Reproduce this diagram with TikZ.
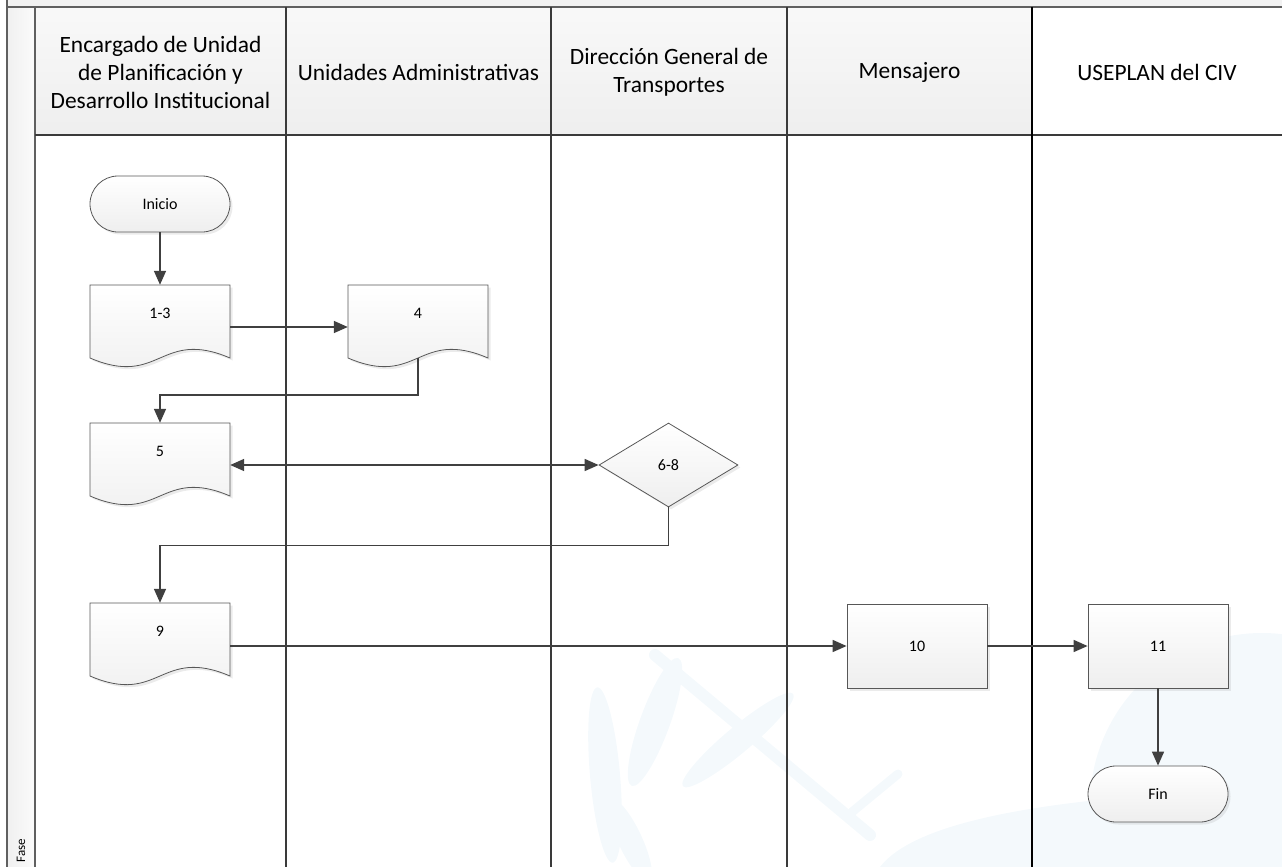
\documentclass[tikz,border=0pt]{standalone}
\usepackage{fontspec}
\setmainfont{Carlito}
\usetikzlibrary{arrows.meta,shapes.geometric,shadows}

\definecolor{edge}{HTML}{575757}
\definecolor{wire}{HTML}{404040}
\definecolor{lanerule}{HTML}{3A3A3A}
\definecolor{emblemtint}{HTML}{F4F9FC}

\newcommand\labelfont{\fontsize{16}{19}\selectfont}
\newcommand\headfont{\fontsize{23.4}{28}\selectfont}

\tikzset{
  soft/.style={drop shadow={shadow xshift=2.5pt, shadow yshift=-2.5pt, opacity=0.22, fill=gray!70}},
  boxfill/.style={draw=edge, line width=0.8pt, top color=white, bottom color=gray!13, soft},
  term/.style={boxfill, rounded corners=28pt, minimum width=140pt, minimum height=56pt, inner sep=0pt, font=\labelfont},
  procbox/.style={boxfill, rectangle, minimum width=140pt, minimum height=84pt, inner sep=0pt, font=\labelfont},
  decbox/.style={boxfill, diamond, minimum width=139pt, minimum height=84pt, inner sep=0pt, font=\labelfont},
  docframe/.style={rectangle, minimum width=140pt, minimum height=73pt, inner sep=0pt},
  doclabel/.style={font=\labelfont},
  head/.style={font=\headfont, align=center},
  flow/.style={draw=wire, line width=1.6pt, -{Triangle[length=14pt,width=12pt]}},
  flowboth/.style={draw=wire, line width=1.6pt, {Triangle[length=14pt,width=12pt]}-{Triangle[length=14pt,width=12pt]}},
  thinlane/.style={draw=lanerule, line width=1.3pt},
  thicklane/.style={draw=black, line width=1.8pt},
}

% document symbol: frame node, wavy outline and label
\newcommand\docsym[4]{%
  \begin{scope}[shift={(#2,#3)}]
    \path[boxfill] (0,0) -- (140,0) -- (140,73)
      .. controls (70,43) and (70,103) .. (0,73) -- cycle;
    \node[docframe] (#1) at (70,36.5) {};
    \node[doclabel] (#1-t) at (70,28) {#4};
  \end{scope}}

\begin{document}
\begin{tikzpicture}[x=1pt,y=-1pt]
\useasboundingbox (0,0) rectangle (1282,867);

% top strip, phase column and header band
\fill[gray!10] (7,0) rectangle (1282,7);
\shade[left color=gray!12, right color=gray!3] (7,7) rectangle (35,867);
\shade[top color=gray!5, bottom color=gray!13] (35,7) rectangle (1032,135);
\fill[white] (1032,7) rectangle (1282,135);

% faint emblem in the background
\begin{scope}[emblemtint]
  \clip (35,135) rectangle (1282,867);
  \fill (1262,805) circle (172pt);
  \fill (880,867) .. controls (920,815) and (1080,795) .. (1282,788) -- (1282,867) -- cycle;
  \fill[rotate around={5:(605,775)}] (605,775) ellipse (15pt and 88pt);
  \fill[rotate around={-20:(655,722)}] (655,722) ellipse (15pt and 68pt);
  \fill[rotate around={-50:(738,740)}] (738,740) ellipse (13pt and 72pt);
  \fill[rotate around={25:(630,840)}] (630,840) ellipse (12pt and 45pt);
  \draw[line width=12pt, line cap=round] (655,655) -- (870,835);
  \draw[line width=9pt, line cap=round] (852,812) -- (898,774);
\end{scope}

% frame and lane rules
\draw[draw=gray!75!black, line width=1.8pt] (7,0) -- (7,867);
\draw[draw=gray!75!black, line width=1.4pt] (7,7) -- (1282,7);
\draw[draw=gray!75!black, line width=1.8pt] (35,7) -- (35,867);
\draw[thinlane] (35,135) -- (1282,135);
\draw[thinlane] (286,7) -- (286,867);
\draw[thinlane] (551,7) -- (551,867);
\draw[thinlane] (787,7) -- (787,867);
\draw[thicklane] (1032,7) -- (1032,867);

% lane titles
\node[head] (h1) at (160.5,72) {Encargado de Unidad\\de Planificación y\\Desarrollo Institucional};
\node[head] (h2) at (418.5,72) {Unidades Administrativas};
\node[head] (h3) at (669,72) {Dirección General de\\Transportes};
\node[head] (h4) at (909.5,72) {Mensajero};
\node[head] (h5) at (1157,72) {USEPLAN del CIV};
\node[font=\fontsize{13}{15}\selectfont, rotate=90, anchor=west] (fase) at (21,866) {Fase};

% flow symbols
\node[term] (ini) at (160,204) {Inicio};
\docsym{d13}{90}{285}{1-3}
\docsym{d4}{348}{285}{4}
\docsym{d5}{90}{423}{5}
\node[decbox] (dec) at (668.5,465) {6-8};
\docsym{d9}{90}{603}{9}
\node[procbox] (p10) at (917,646) {10};
\node[procbox] (p11) at (1158,646) {11};
\node[term] (fin) at (1158,794) {Fin};

% connectors
\draw[flow] (ini) -- (d13);
\draw[flow] ([yshift=-5.5pt]d13.east) -- ([yshift=-5.5pt]d4.west);
\draw[flow] (d4.south) -- ++(0,37) -| (d5.north);
\draw[flowboth] (d5.east |- dec.west) -- (dec.west);
\draw[flow] (dec.south) -- ++(0,38) -| (d9.north);
\draw[flow] (d9.east |- p10.west) -- (p10.west);
\draw[flow] (p10) -- (p11);
\draw[flow] (p11) -- (fin);
\end{tikzpicture}
\end{document}
